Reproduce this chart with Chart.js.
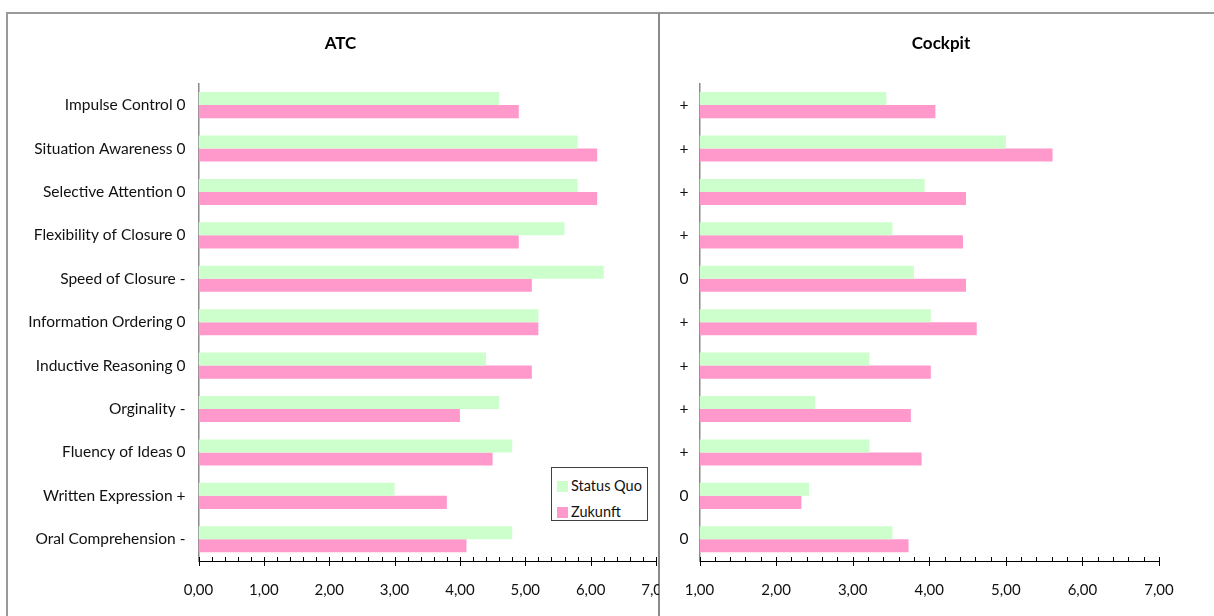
<!DOCTYPE html>
<html>
<head>
<meta charset="utf-8">
<script src="https://cdn.jsdelivr.net/npm/chart.js@4.4.1/dist/chart.umd.min.js"></script>
<style>
  html, body { margin: 0; padding: 0; background: #fff; overflow: hidden; }
  body { width: 1214px; height: 616px; position: relative; font-family: Lato, "Open Sans", sans-serif; }
  .frame { position: absolute; top: 12px; height: 640px; border-top: 2px solid #9a9a9a; box-sizing: border-box; }
  #frameL { left: 6px; width: 654px; border-left: 2px solid #9a9a9a; border-right: 2px solid #8a8a8a; }
  #frameR { left: 660px; width: 600px; }
  canvas { position: absolute; }
  #legend { position: absolute; left: 551px; top: 467px; width: 97px; height: 54px; box-sizing: border-box;
            border: 1px solid #404040; background: #fff; font-size: 14.5px; color: #111; }
  .item { position: absolute; left: 5px; height: 14px; line-height: 14px; white-space: nowrap; }
  .item span.sw { display: inline-block; width: 11px; height: 11px; vertical-align: -1px; margin-right: 3px; }
</style>
</head>
<body>
<div class="frame" id="frameL"></div>
<div class="frame" id="frameR"></div>
<div style="position:absolute;left:6px;top:12px;width:653px;height:620px;overflow:hidden;">
  <canvas id="atc" width="653" height="620" style="left:0;top:0;"></canvas>
</div>
<div style="position:absolute;left:661px;top:12px;width:560px;height:620px;overflow:hidden;">
  <canvas id="cockpit" width="560" height="620" style="left:0;top:0;"></canvas>
</div>
<div id="legend"></div>
<script>
// Abilities and their rating per workplace
const atcLabels = [
  'Impulse Control 0', 'Situation Awareness 0', 'Selective Attention 0',
  'Flexibility of Closure 0', 'Speed of Closure -', 'Information Ordering 0',
  'Inductive Reasoning 0', 'Orginality -', 'Fluency of Ideas 0',
  'Written Expression +', 'Oral Comprehension -'
];
const cockpitLabels = ['+', '+', '+', '+', '0', '+', '+', '+', '+', '0', '0'];

const seriesNames = ['Status Quo', 'Zukunft'];

const atcStatusQuo = [4.6, 5.8, 5.8, 5.6, 6.2, 5.2, 4.4, 4.6, 4.8, 3.0, 4.8];
const atcZukunft   = [4.9, 6.1, 6.1, 4.9, 5.1, 5.2, 5.1, 4.0, 4.5, 3.8, 4.1];

const cockpitStatusQuo = [3.44, 5.00, 3.94, 3.52, 3.80, 4.02, 3.22, 2.51, 3.22, 2.43, 3.52];
const cockpitZukunft   = [4.08, 5.61, 4.48, 4.44, 4.48, 4.62, 4.02, 3.76, 3.90, 2.33, 3.73];

const atcTickLabels     = ['0,00', '1,00', '2,00', '3,00', '4,00', '5,00', '6,00', '7,00'];
const cockpitTickLabels = ['1,00', '2,00', '3,00', '4,00', '5,00', '6,00', '7,00'];

const GREEN = '#CCFFCC';
const PINK = '#FF99CC';
const FONT = 'Lato, "Open Sans", sans-serif';

// Major ticks cross the axis line, minor ticks (every 0.2) sit just above it
const axisTicks = {
  id: 'axisTicks',
  afterDatasetsDraw(chart) {
    const xs = chart.scales.x;
    const ctx = chart.ctx;
    const y0 = chart.chartArea.bottom;
    ctx.save();
    ctx.strokeStyle = '#000';
    ctx.lineWidth = 1;
    const steps = Math.round((xs.max - xs.min) / 0.2);
    for (let i = 0; i <= steps; i++) {
      const v = xs.min + i * 0.2;
      const x = Math.round(xs.getPixelForValue(v)) + 0.5;
      const major = i % 5 === 0;
      ctx.beginPath();
      ctx.moveTo(x, y0 - 4);
      ctx.lineTo(x, major ? y0 + 5 : y0);
      ctx.stroke();
    }
    ctx.restore();
  }
};

function makeChart(id, labels, sq, zk, min, tickLabels, cfg) {
  return new Chart(document.getElementById(id), {
    type: 'bar',
    data: {
      labels: labels,
      datasets: [
        { label: seriesNames[0], data: sq, backgroundColor: GREEN, base: min },
        { label: seriesNames[1], data: zk, backgroundColor: PINK, base: min }
      ]
    },
    options: {
      indexAxis: 'y',
      responsive: false,
      animation: false,
      events: [],
      layout: { padding: { left: cfg.padLeft, right: 0, top: 0, bottom: 21 } },
      datasets: { bar: { categoryPercentage: 0.6, barPercentage: 1.0, borderWidth: 0 } },
      plugins: {
        legend: { display: false },
        tooltip: { enabled: false },
        title: {
          display: true,
          text: cfg.title,
          color: '#000',
          font: { family: FONT, size: 17, weight: 'bold', lineHeight: 1.2 },
          padding: { top: 21, bottom: 30 }
        }
      },
      scales: {
        x: {
          type: 'linear',
          min: min,
          max: 7,
          grid: { display: false, drawTicks: false },
          border: { display: true, color: '#000', width: 1 },
          ticks: {
            stepSize: 1,
            padding: 20,
            color: '#111',
            font: { family: FONT, size: 15 },
            callback: (v, i) => tickLabels[i]
          },
          afterFit(s) { s.height = 50; s.paddingLeft = 0; s.paddingRight = cfg.padRight; }
        },
        y: {
          grid: { display: false, drawTicks: false },
          border: { display: true, color: '#8a8a8a', width: 1.5 },
          ticks: { padding: cfg.labelPad, color: '#111', font: { family: FONT, size: 15.5 } },
          afterFit(s) { s.width = cfg.axisWidth; }
        }
      }
    },
    plugins: [axisTicks]
  });
}

const atcChart = makeChart('atc', atcLabels, atcStatusQuo, atcZukunft, 0, atcTickLabels,
  { title: 'ATC', padLeft: 16, padRight: 3, axisWidth: 176.5, labelPad: 13 });
makeChart('cockpit', cockpitLabels, cockpitStatusQuo, cockpitZukunft, 1, cockpitTickLabels,
  { title: 'Cockpit', padLeft: 0, padRight: 62, axisWidth: 38.5, labelPad: 11 });

// Legend box built from the ATC chart's datasets
const legend = document.getElementById('legend');
atcChart.data.datasets.forEach((ds, i) => {
  const it = document.createElement('div');
  it.className = 'item';
  it.style.top = (11 + i * 26) + 'px';
  const sw = document.createElement('span');
  sw.className = 'sw';
  sw.style.background = ds.backgroundColor;
  it.appendChild(sw);
  it.appendChild(document.createTextNode(ds.label));
  legend.appendChild(it);
});
</script>
</body>
</html>
